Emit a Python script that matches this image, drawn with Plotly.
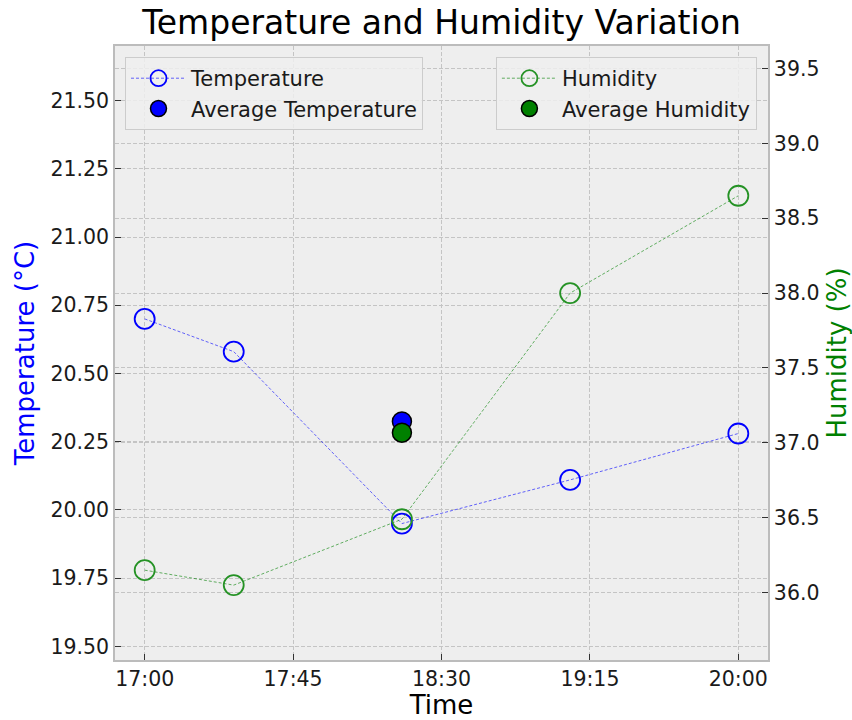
import numpy as np
import pandas as pd
import plotly.graph_objects as go

# ---- data ----
times = ["2024-01-01 17:00", "2024-01-01 17:27", "2024-01-01 18:18",
         "2024-01-01 19:09", "2024-01-01 20:00"]
temperature = [20.70, 20.58, 19.95, 20.11, 20.28]
humidity = [36.15, 36.05, 36.49, 38.00, 38.65]
x_tick_labels = ["17:00", "17:45", "18:30", "19:15", "20:00"]

t = pd.to_datetime(times)
mid_time = t[len(t) // 2]
avg_temp = float(np.mean(temperature))
avg_hum = float(np.mean(humidity))

span = t[-1] - t[0]
x_range = [t[0] - span * 0.05, t[-1] + span * 0.05]
tick_vals = [pd.Timestamp("2024-01-01 " + s) for s in x_tick_labels]

FONT = "DejaVu Sans"
GRID = "#c4c4c4"
SPINE = "#bcbcbc"
TICKFONT = dict(family=FONT, size=20.5, color="#1a1a1a")

fig = go.Figure()
fig.add_trace(go.Scatter(
    x=t, y=temperature, mode="lines+markers", name="Temperature",
    line=dict(color="rgba(0,0,255,0.75)", width=0.8, dash="3px,2px"),
    marker=dict(symbol="circle-open", size=20, color="blue", line=dict(width=1.8)),
    legend="legend", yaxis="y"))
fig.add_trace(go.Scatter(
    x=[mid_time], y=[avg_temp], mode="markers", name="Average Temperature",
    marker=dict(symbol="circle", size=19, color="blue", line=dict(color="black", width=1.5)),
    legend="legend", yaxis="y"))
fig.add_trace(go.Scatter(
    x=t, y=humidity, mode="lines+markers", name="Humidity",
    line=dict(color="rgba(0,128,0,0.75)", width=0.8, dash="3px,2px"),
    marker=dict(symbol="circle-open", size=20, color="#259225", line=dict(width=1.8)),
    legend="legend2", yaxis="y2"))
fig.add_trace(go.Scatter(
    x=[mid_time], y=[avg_hum], mode="markers", name="Average Humidity",
    marker=dict(symbol="circle", size=19, color="green", line=dict(color="black", width=1.5)),
    legend="legend2", yaxis="y2"))

legend_common = dict(
    bgcolor="rgba(238,238,238,0.85)", bordercolor="#cccccc", borderwidth=1,
    font=dict(family=FONT, size=21, color="#1a1a1a"),
    yanchor="top", y=0.982, itemwidth=55, tracegroupgap=4)

fig.update_layout(
    width=852, height=720,
    margin=dict(l=115, r=84, t=46, b=60, autoexpand=False),
    paper_bgcolor="white", plot_bgcolor="#eeeeee",
    font=dict(family=FONT, size=20, color="#1a1a1a"),
    title=dict(text="Temperature and Humidity Variation", x=0.5, xref="paper",
               xanchor="center", y=1 - 22 / 720, yref="container", yanchor="middle",
               font=dict(family=FONT, size=33, color="black")),
    xaxis=dict(type="date", range=x_range, tickvals=tick_vals, ticktext=x_tick_labels,
               automargin=False,
               showgrid=True, gridcolor=GRID, gridwidth=0.8, griddash="4px,2px",
               ticks="inside", ticklen=6, tickcolor="#333333",
               showline=True, linecolor=SPINE, linewidth=1.5, mirror=True,
               zeroline=False,
               title=dict(text="Time", font=dict(family=FONT, size=26, color="black"), standoff=6),
               tickfont=TICKFONT),
    yaxis=dict(range=[min(temperature) - 0.5, max(temperature) + 1], dtick=0.25,
               tick0=19.5, tickformat=".2f", automargin=False,
               showgrid=True, gridcolor=GRID, gridwidth=0.8, griddash="4px,2px",
               ticks="inside", ticklen=6, tickcolor="#333333",
               showline=True, linecolor=SPINE, linewidth=1.5,
               zeroline=False,
               title=dict(text="Temperature (°C)", font=dict(family=FONT, size=26, color="blue"), standoff=8),
               tickfont=TICKFONT),
    yaxis2=dict(range=[min(humidity) - 0.5, max(humidity) + 1], dtick=0.5,
                tick0=36.0, tickformat=".1f", automargin=False,
                overlaying="y", side="right",
                showgrid=True, gridcolor=GRID, gridwidth=0.8, griddash="4px,2px",
                ticks="inside", ticklen=6, tickcolor="#333333",
                showline=True, linecolor=SPINE, linewidth=1.5,
                zeroline=False,
                title=dict(text="Humidity (%)", font=dict(family=FONT, size=26, color="green"), standoff=10),
                tickfont=TICKFONT),
    legend=dict(x=0.0153, xanchor="left", **legend_common),
    legend2=dict(x=0.983, xanchor="right", **legend_common),
    showlegend=True,
)

fig.write_html("out.html")
